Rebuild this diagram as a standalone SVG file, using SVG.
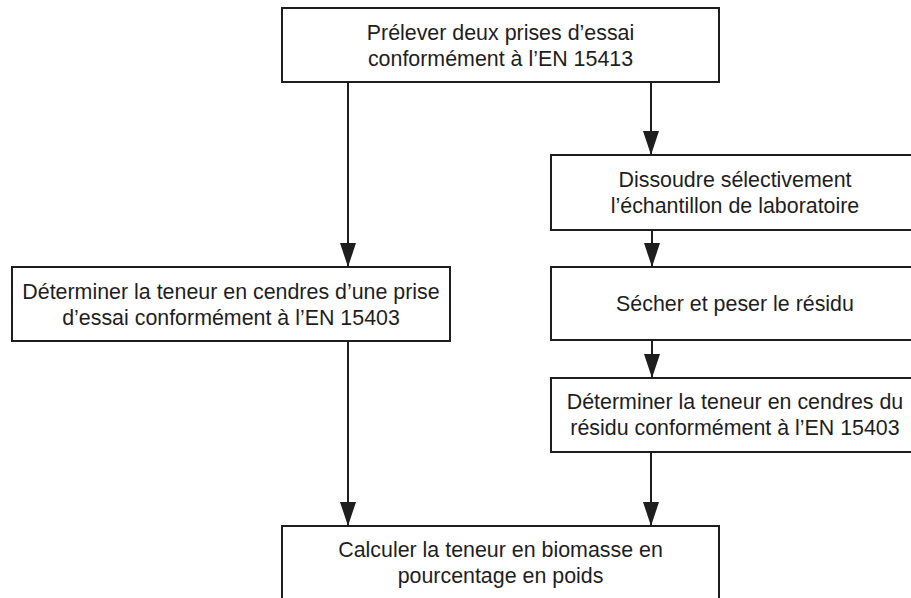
<svg xmlns="http://www.w3.org/2000/svg" width="911" height="598" viewBox="0 0 911 598">
<defs>
<style>
.box{fill:#fff;stroke:#1e1e1e;stroke-width:2}
.lbl{font-family:"Liberation Sans",Arial,sans-serif;font-size:21.4px;fill:#1e1e1e;text-anchor:middle}
.edge{fill:none;stroke:#1e1e1e;stroke-width:2}
</style>
<marker id="arr" markerUnits="userSpaceOnUse" markerWidth="24" markerHeight="16" refX="24" refY="8" orient="auto" viewBox="0 0 24 16">
<path d="M0,0 L24,8 L0,16 Z" fill="#1e1e1e"/>
</marker>
</defs>
<rect width="911" height="598" fill="#fff"/>
<g id="connectors">
<line class="edge" x1="348" y1="82" x2="348" y2="267" marker-end="url(#arr)"/>
<line class="edge" x1="651" y1="82" x2="651" y2="155" marker-end="url(#arr)"/>
<line class="edge" x1="652" y1="230" x2="652" y2="267" marker-end="url(#arr)"/>
<line class="edge" x1="652" y1="340" x2="652" y2="378" marker-end="url(#arr)"/>
<line class="edge" x1="348" y1="341" x2="348" y2="526" marker-end="url(#arr)"/>
<line class="edge" x1="651" y1="452" x2="651" y2="526" marker-end="url(#arr)"/>
</g>
<g id="n1">
<rect class="box" x="282" y="8" width="437" height="74"/>
<text class="lbl" x="500.5" y="39.5">Prélever deux prises d’essai</text>
<text class="lbl" x="500.5" y="65.5">conformément à l’EN 15413</text>
</g>
<g id="n2">
<rect class="box" x="551" y="155" width="380" height="75"/>
<text class="lbl" x="735" y="187">Dissoudre sélectivement</text>
<text class="lbl" x="735" y="213">l’échantillon de laboratoire</text>
</g>
<g id="n3">
<rect class="box" x="12" y="267" width="438" height="74"/>
<text class="lbl" x="231" y="298.5">Déterminer la teneur en cendres d’une prise</text>
<text class="lbl" x="231" y="324.5">d’essai conformément à l’EN 15403</text>
</g>
<g id="n4">
<rect class="box" x="551" y="267" width="380" height="73"/>
<text class="lbl" x="735" y="311">Sécher et peser le résidu</text>
</g>
<g id="n5">
<rect class="box" x="551" y="378" width="380" height="74"/>
<text class="lbl" x="735" y="409">Déterminer la teneur en cendres du</text>
<text class="lbl" x="735" y="435">résidu conformément à l’EN 15403</text>
</g>
<g id="n6">
<rect class="box" x="282" y="526" width="437" height="90"/>
<text class="lbl" x="500.5" y="557">Calculer la teneur en biomasse en</text>
<text class="lbl" x="500.5" y="583">pourcentage en poids</text>
</g>
</svg>
